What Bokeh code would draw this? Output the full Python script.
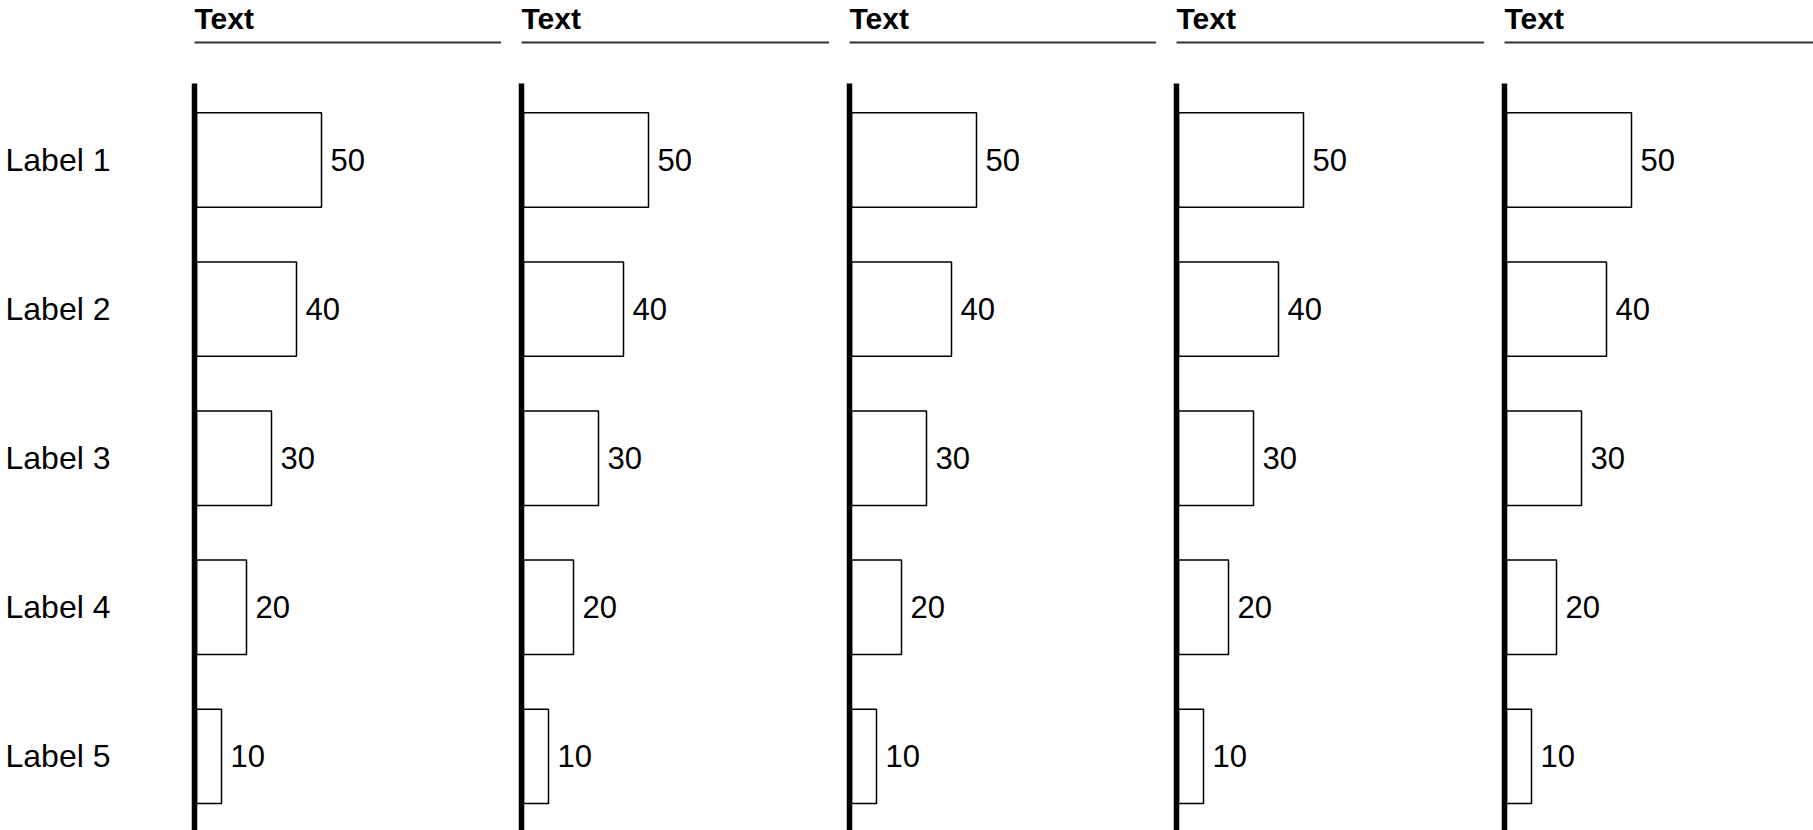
from bokeh.plotting import figure
from bokeh.models import ColumnDataSource, Range1d, FixedTicker
from bokeh.layouts import row
from bokeh.embed import file_html
from bokeh.resources import INLINE
from bokeh.core.properties import value

# ---------------- data ----------------
categories = ["Label 1", "Label 2", "Label 3", "Label 4", "Label 5"]
panel_titles = ["Text", "Text", "Text", "Text", "Text"]
panel1_values = [50, 40, 30, 20, 10]
panel2_values = [50, 40, 30, 20, 10]
panel3_values = [50, 40, 30, 20, 10]
panel4_values = [50, 40, 30, 20, 10]
panel5_values = [50, 40, 30, 20, 10]
panel_values = [panel1_values, panel2_values, panel3_values, panel4_values, panel5_values]

# ---------------- layout / style (pixels) ----------------
FONT = "Liberation Sans"
FIG_H = 830
FRAME_TOP = 42           # expected frame top (title underline)
TITLE_STANDOFF = 2.5
UNDERLINE_GAP = 4        # extra space between title box and underline
PX_PER_UNIT = 2.5
ZERO_OFFSET = 2          # px between frame left and x = 0
ROW_PITCH = 149.1        # px per category row
FIRST_ROW_CENTER = 117.5 # px from frame top to first row centre
AXIS_TOP = 40.7          # px from frame top where the baseline starts
BAR_HEIGHT = 0.633
LABEL_AREA = 194
PANEL_GAP = 20
FIG_WIDTHS = [501, 328, 327, 328, 329]
LABEL_STANDOFF = 84

positions = list(range(1, len(categories) + 1))
frame_h = FIG_H - FRAME_TOP
y_top = 1 - FIRST_ROW_CENTER / ROW_PITCH
y_bottom = y_top + frame_h / ROW_PITCH
axis_start = y_top + AXIS_TOP / ROW_PITCH

figs = []
for i, (title, vals) in enumerate(zip(panel_titles, panel_values)):
    first = i == 0
    left = LABEL_AREA if first else PANEL_GAP
    fig_w = FIG_WIDTHS[i]
    fw = fig_w - left
    x0 = -ZERO_OFFSET / PX_PER_UNIT
    p = figure(width=fig_w, height=FIG_H,
               x_range=Range1d(x0, x0 + fw / PX_PER_UNIT),
               y_range=Range1d(y_bottom, y_top),
               x_axis_location="above",
               toolbar_location=None, output_backend="svg",
               min_border_left=left, min_border_right=0,
               min_border_top=0, min_border_bottom=0,
               title=title)
    p.outline_line_color = None
    p.xgrid.visible = False
    p.ygrid.visible = False
    p.background_fill_color = "white"
    p.border_fill_color = "white"

    p.title.text_font = FONT
    p.title.text_font_size = "30px"
    p.title.text_font_style = "bold"
    p.title.text_color = "black"
    p.title.align = "left"
    p.title.vertical_align = "top"
    p.title.offset = 0
    p.title.standoff = TITLE_STANDOFF
    try:
        p.title.padding = dict(top=0, right=0, bottom=UNDERLINE_GAP, left=0)
    except Exception:
        p.title.standoff = TITLE_STANDOFF + UNDERLINE_GAP

    # the title underline is the (tick-less) top axis line
    xa = p.xaxis[0]
    xa.ticker = FixedTicker(ticks=[])
    xa.major_tick_line_color = None
    xa.minor_tick_line_color = None
    xa.major_tick_in = 0
    xa.major_tick_out = 0
    xa.major_label_standoff = 0
    xa.axis_line_width = 2
    xa.axis_line_color = "#333333"

    # the thick baseline is the left axis line
    ya = p.yaxis[0]
    ya.bounds = (axis_start, y_bottom)
    ya.axis_line_width = 5.5
    ya.axis_line_color = "black"
    ya.major_tick_line_color = None
    ya.minor_tick_line_color = None
    ya.major_tick_out = 0
    ya.major_tick_in = 0
    if first:
        ya.ticker = FixedTicker(ticks=positions)
        ya.major_label_overrides = {pos: cat for pos, cat in zip(positions, categories)}
        ya.major_label_standoff = LABEL_STANDOFF
        ya.major_label_text_font = FONT
        ya.major_label_text_font_size = "32px"
        ya.major_label_text_color = "black"
    else:
        ya.ticker = FixedTicker(ticks=[])
        ya.major_label_standoff = 0

    src = ColumnDataSource(dict(pos=positions, val=vals, txt=[str(v) for v in vals]))
    p.hbar(y="pos", left=0, right="val", height=BAR_HEIGHT, source=src,
           fill_color="white", line_color="black", line_width=1.5)
    p.text(x="val", y="pos", text="txt", source=src, x_offset=9,
           text_align="left", text_baseline="middle",
           text_font=value(FONT), text_font_size="31px", text_color="black")
    figs.append(p)

layout = row(*figs)
open("out.html", "w").write(file_html(layout, INLINE))
